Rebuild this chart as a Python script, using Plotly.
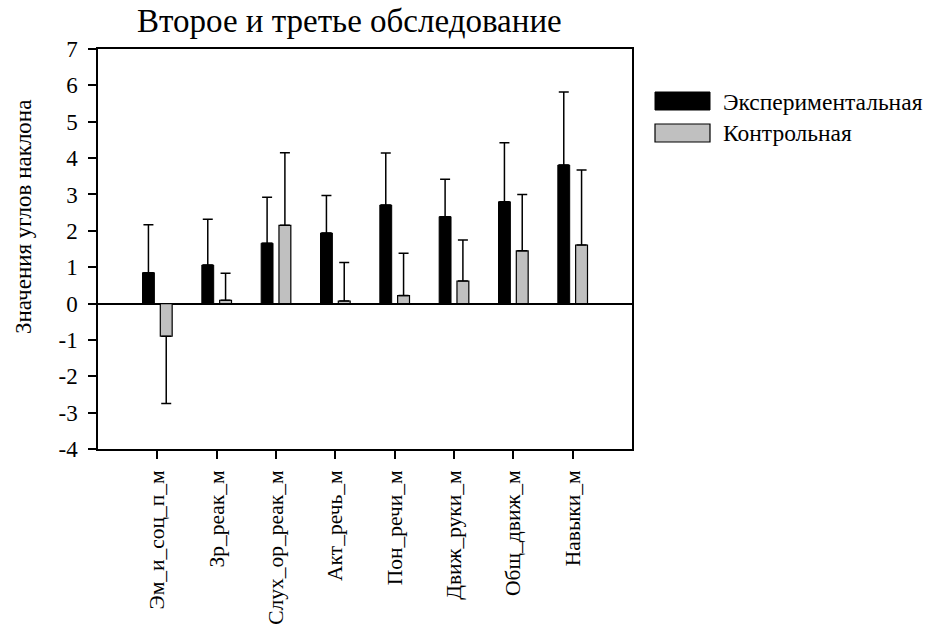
import plotly.graph_objects as go

categories = ["Эм_и_соц_п_м", "Зр_реак_м", "Слух_ор_реак_м", "Акт_речь_м",
              "Пон_речи_м", "Движ_руки_м", "Общ_движ_м", "Навыки_м"]
exp_values = [0.85, 1.06, 1.66, 1.94, 2.71, 2.39, 2.80, 3.81]
exp_err = [1.32, 1.26, 1.26, 1.03, 1.43, 1.03, 1.62, 2.01]
ctrl_values = [-0.90, 0.09, 2.15, 0.07, 0.22, 0.62, 1.45, 1.61]
ctrl_err = [1.85, 0.74, 2.00, 1.06, 1.16, 1.13, 1.55, 2.06]
yticks = [-4, -3, -2, -1, 0, 1, 2, 3, 4, 5, 6, 7]
ytick_text = [str(v) for v in yticks]

FONT = "Liberation Serif"
W, H = 926, 637
L, R, T, B = 98, 632, 49, 449


def px(x):
    return (x - L) / (R - L)


def py(y):
    return (B - y) / (B - T)


ctrl_up = [e if v >= 0 else 0 for v, e in zip(ctrl_values, ctrl_err)]
ctrl_down = [0 if v >= 0 else e for v, e in zip(ctrl_values, ctrl_err)]

fig = go.Figure()
fig.add_trace(go.Bar(
    x=categories, y=exp_values, name="Экспериментальная",
    width=0.2, offset=-0.25,
    marker=dict(color="black", line=dict(color="black", width=1)),
    error_y=dict(type="data", symmetric=False, array=exp_err,
                 arrayminus=[0] * len(exp_err), color="black",
                 thickness=1.5, width=5),
    showlegend=False,
))
fig.add_trace(go.Bar(
    x=categories, y=ctrl_values, name="Контрольная",
    width=0.2, offset=0.05,
    marker=dict(color="#c0c0c0", line=dict(color="black", width=1.2)),
    error_y=dict(type="data", symmetric=False, array=ctrl_up,
                 arrayminus=ctrl_down, color="black",
                 thickness=1.5, width=5),
    showlegend=False,
))

fig.update_layout(
    width=W, height=H,
    margin=dict(l=L, r=W - R, t=T, b=H - B, autoexpand=False),
    paper_bgcolor="white", plot_bgcolor="white",
    barmode="overlay",
    font=dict(family=FONT, color="black", size=22),
    xaxis=dict(
        type="category", range=[-1, 8], automargin=False,
        showline=True, linecolor="black", linewidth=1.5, mirror=True,
        ticks="outside", ticklen=8, tickwidth=1.5, tickcolor="black",
        tickangle=-90, tickfont=dict(family=FONT, size=21.5), showgrid=False,
        ticklabelstandoff=3,
    ),
    yaxis=dict(
        range=[-4, 7], tickvals=yticks, ticktext=ytick_text, automargin=False,
        showline=True, linecolor="black", linewidth=1.5, mirror=True,
        ticks="outside", ticklen=8, tickwidth=1.5, tickcolor="black",
        tickfont=dict(family=FONT, size=23), showgrid=False,
        zeroline=True, zerolinecolor="black", zerolinewidth=1.5,
        ticklabelstandoff=6,
    ),
    annotations=[
        dict(text="Второе и третье обследование", x=px(349), y=py(21),
             xref="paper", yref="paper", xanchor="center", yanchor="middle",
             showarrow=False, font=dict(family=FONT, size=33)),
        dict(text="Значения углов наклона", x=px(23), y=py(217),
             xref="paper", yref="paper", xanchor="center", yanchor="middle",
             textangle=-90, showarrow=False, font=dict(family=FONT, size=23)),
        dict(text="Экспериментальная", x=px(721), y=py(102),
             xref="paper", yref="paper", xanchor="left", yanchor="middle",
             showarrow=False, font=dict(family=FONT, size=23.5)),
        dict(text="Контрольная", x=px(721), y=py(133),
             xref="paper", yref="paper", xanchor="left", yanchor="middle",
             showarrow=False, font=dict(family=FONT, size=23.5)),
    ],
    shapes=[
        dict(type="rect", xref="paper", yref="paper",
             x0=px(655), x1=px(710), y0=py(110), y1=py(92),
             fillcolor="black", line=dict(color="black", width=1)),
        dict(type="rect", xref="paper", yref="paper",
             x0=px(655), x1=px(710), y0=py(142), y1=py(124),
             fillcolor="#c0c0c0", line=dict(color="black", width=1.2)),
    ],
)

fig.write_html("out.html")
